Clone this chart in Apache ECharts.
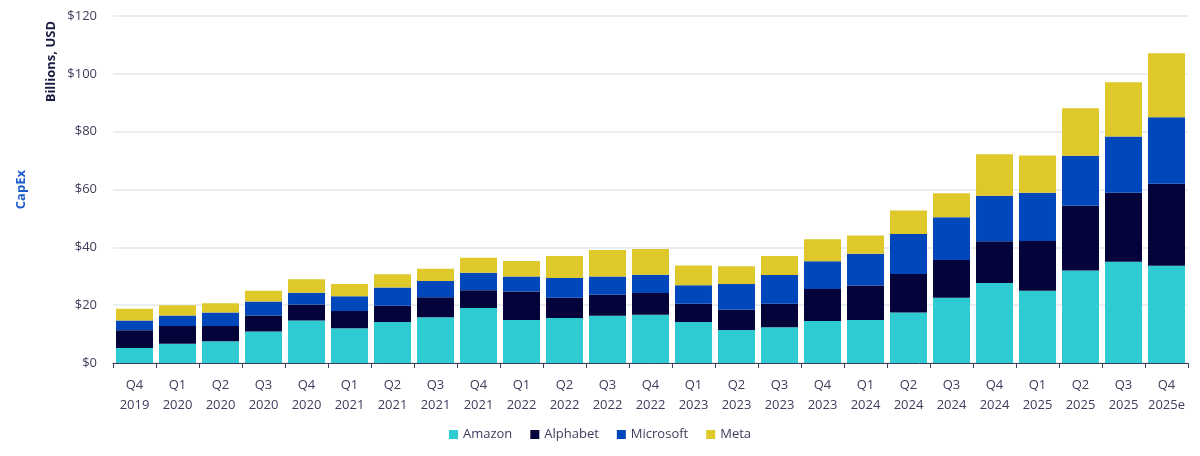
<!DOCTYPE html>
<html>
<head>
<meta charset="utf-8">
<script src="https://cdn.jsdelivr.net/npm/echarts@6/dist/echarts.min.js"></script>
<style>
    html, body { margin: 0; padding: 0; background: #ffffff; }
    #capex { width: 1200px; height: 456px; }
</style>
</head>
<body>
<div id="capex"></div>
<script>
// quarters on the x axis
var quarters = ['Q4\n2019', 'Q1\n2020', 'Q2\n2020', 'Q3\n2020', 'Q4\n2020',
    'Q1\n2021', 'Q2\n2021', 'Q3\n2021', 'Q4\n2021',
    'Q1\n2022', 'Q2\n2022', 'Q3\n2022', 'Q4\n2022',
    'Q1\n2023', 'Q2\n2023', 'Q3\n2023', 'Q4\n2023',
    'Q1\n2024', 'Q2\n2024', 'Q3\n2024', 'Q4\n2024',
    'Q1\n2025', 'Q2\n2025', 'Q3\n2025', 'Q4\n2025e'];

// capex per company, billions USD
var amazon = [5.2, 6.7, 7.5, 10.9, 14.7, 12.0, 14.2, 15.8, 19.0, 14.9, 15.6, 16.3, 16.7,
    14.2, 11.4, 12.4, 14.5, 14.9, 17.5, 22.6, 27.7, 25.0, 32.0, 35.0, 33.6];
var alphabet = [6.1, 6.1, 5.3, 5.5, 5.5, 6.0, 5.6, 6.9, 6.2, 9.8, 7.0, 7.3, 7.5,
    6.3, 7.0, 8.1, 11.1, 11.9, 13.3, 13.0, 14.4, 17.2, 22.4, 23.9, 28.4];
var microsoft = [3.4, 3.6, 4.7, 4.9, 4.1, 5.1, 6.3, 5.7, 6.0, 5.2, 6.8, 6.3, 6.3,
    6.4, 8.9, 9.9, 9.6, 11.0, 13.8, 14.8, 15.7, 16.7, 17.3, 19.4, 23.0];
var meta = [4.1, 3.6, 3.2, 3.7, 4.7, 4.2, 4.6, 4.2, 5.2, 5.4, 7.6, 9.2, 8.9,
    6.8, 6.2, 6.6, 7.6, 6.3, 8.1, 8.3, 14.4, 12.9, 16.4, 18.8, 22.1];

var yTicks = { min: 0, max: 120, step: 20 };

var textColor = '#3d3d5c';
var font = '"Open Sans", "Noto Sans", sans-serif';

var myChart = echarts.init(document.getElementById('capex'));

function barSeries(name, data) {
    return {
        name: name,
        type: 'bar',
        stack: 'capex',
        barCategoryGap: '14%',
        data: data
    };
}

var option = {
    animation: false,
    color: ['#2ecbd2', '#04033a', '#0047bb', '#dec82a'],
    textStyle: { fontFamily: font },
    grid: {
        left: 113,
        right: 12,
        top: 16,
        bottom: 93
    },
    legend: {
        bottom: 10,
        left: 'center',
        itemWidth: 9,
        itemHeight: 9,
        itemGap: 18,
        icon: 'rect',
        textStyle: { color: textColor, fontSize: 13, fontFamily: font },
        data: ['Amazon', 'Alphabet', 'Microsoft', 'Meta']
    },
    graphic: [
        {
            type: 'text',
            left: 45,
            top: 21,
            rotation: Math.PI / 2,
            style: {
                text: 'Billions, USD',
                fill: '#1a1a40',
                font: 'bold 13px ' + font
            }
        },
        {
            type: 'text',
            left: 15,
            top: 170,
            rotation: Math.PI / 2,
            style: {
                text: 'CapEx',
                fill: '#1a5ccc',
                font: 'bold 13px ' + font
            }
        }
    ],
    xAxis: {
        type: 'category',
        data: quarters,
        axisLine: { lineStyle: { color: '#3d3d5c', width: 1 } },
        axisTick: { show: true, length: 5, lineStyle: { color: '#3d3d5c' } },
        axisLabel: {
            interval: 0,
            color: textColor,
            fontSize: 13,
            lineHeight: 20,
            margin: 12
        }
    },
    yAxis: {
        type: 'value',
        min: yTicks.min,
        max: yTicks.max,
        interval: yTicks.step,
        axisLine: { show: false },
        axisTick: { show: false },
        splitLine: { lineStyle: { color: '#e3e7ee', width: 1.5 } },
        axisLabel: {
            color: textColor,
            fontSize: 13,
            margin: 16,
            formatter: '${value}'
        }
    },
    series: [
        barSeries('Amazon', amazon),
        barSeries('Alphabet', alphabet),
        barSeries('Microsoft', microsoft),
        barSeries('Meta', meta)
    ]
};

myChart.setOption(option, true);
</script>
</body>
</html>
